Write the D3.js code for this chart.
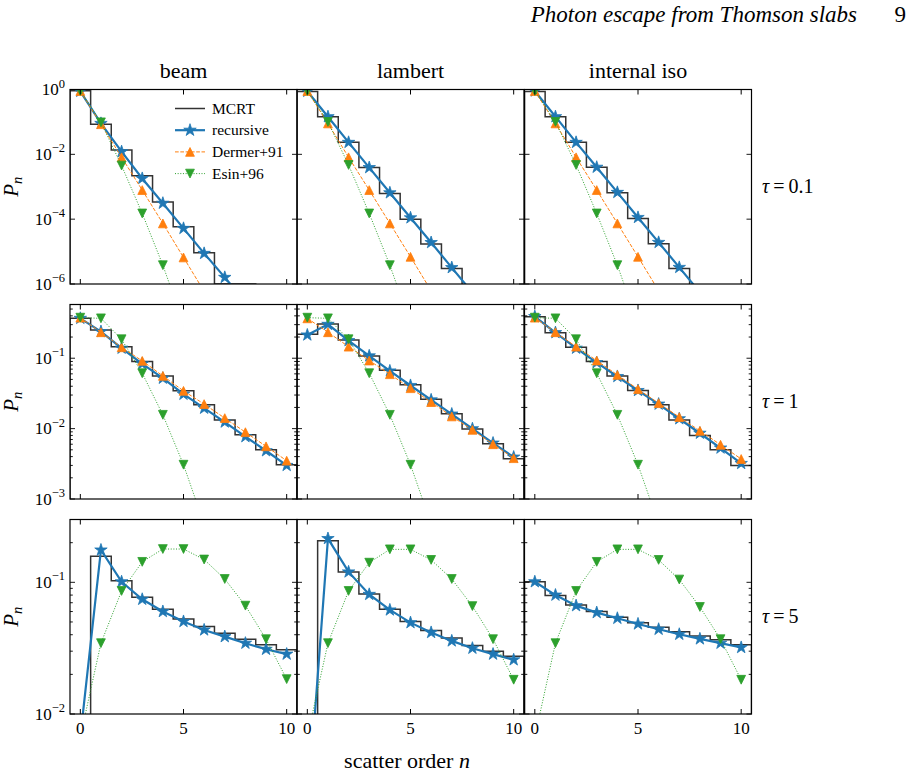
<!DOCTYPE html>
<html><head><meta charset="utf-8">
<script src="https://cdn.jsdelivr.net/npm/d3@7"></script>
<style>
body{margin:0;background:#fff}
svg{display:block}
</style>
</head><body>
<svg id="c" width="922" height="777"></svg>
<script>
// ---------------- data ----------------
const columns = ["beam", "lambert", "internal iso"];
const tauLabels = ["0.1", "1", "5"];
const orders = [0,1,2,3,4,5,6,7,8,9,10];
const xTicks = [0, 5, 10];
const legendLabels = ["MCRT", "recursive", "Dermer+91", "Esin+96"];

// tau = 0.1
const mcrt_t01_beam = [0.91, 0.084, 0.0136, 0.0022, 3.4e-4, 5.8e-5, 9.2e-6, 1e-6, 1e-6, null, null];
const rec_t01_beam  = [0.88, 0.090, 0.0121, 0.0018, 3.1e-4, 5.2e-5, 8.8e-6, 1.6e-6, 2.8e-7, null, null];
const der_t01_beam  = [0.90, 0.085, 0.0081, 7.9e-4, 7.4e-5, 6.6e-6, 5.9e-7, null, null, null, null];
const esin_t01_beam = [0.90, 0.097, 0.0045, 1.5e-4, 3.8e-6, 6e-8, null, null, null, null, null];

const mcrt_t01_lam = [0.86, 0.145, 0.0234, 0.0039, 6.2e-4, 1.0e-4, 1.7e-5, 3.0e-6, null, null, null];
const rec_t01_lam  = [0.88, 0.145, 0.0234, 0.0039, 6.5e-4, 1.1e-4, 1.9e-5, 3.2e-6, 5.4e-7, null, null];
const der_t01_lam  = [0.90, 0.090, 0.0081, 7.9e-4, 7.4e-5, 6.9e-6, 6.2e-7, null, null, null, null];
const esin_t01_lam = [0.90, 0.100, 0.0047, 1.5e-4, 3.8e-6, 6e-8, null, null, null, null, null];

const mcrt_t01_iso = [0.86, 0.145, 0.0234, 0.0040, 6.5e-4, 1.05e-4, 1.75e-5, 3.0e-6, null, null, null];
const rec_t01_iso  = [0.90, 0.145, 0.0234, 0.0040, 6.7e-4, 1.13e-4, 1.92e-5, 3.25e-6, 5.5e-7, null, null];
const der_t01_iso  = [0.90, 0.090, 0.0081, 7.9e-4, 7.4e-5, 6.9e-6, 6.2e-7, null, null, null, null];
const esin_t01_iso = [0.90, 0.100, 0.0047, 1.5e-4, 3.8e-6, 6e-8, null, null, null, null, null];

// tau = 1
const mcrt_t1_beam = [0.369, 0.252, 0.146, 0.0897, 0.056, 0.0344, 0.0218, 0.0133, 0.0082, 0.0050, 0.00307];
const rec_t1_beam  = [0.369, 0.239, 0.139, 0.0832, 0.052, 0.0308, 0.0195, 0.0124, 0.0077, 0.00485, 0.0030];
const der_t1_beam  = [0.377, 0.234, 0.143, 0.0917, 0.0561, 0.0344, 0.0223, 0.0141, 0.0089, 0.0056, 0.0035];
const esin_t1_beam = [0.377, 0.369, 0.186, 0.0612, 0.0157, 0.00307, 4.4e-4, null, null, null, null];

const mcrt_t1_lam = [0.219, 0.307, 0.182, 0.108, 0.0676, 0.0419, 0.0262, 0.0162, 0.0099, 0.0061, 0.00373];
const rec_t1_lam  = [0.214, 0.303, 0.178, 0.108, 0.066, 0.041, 0.0256, 0.0161, 0.00996, 0.00623, 0.00394];
const der_t1_lam  = [0.369, 0.234, 0.146, 0.0927, 0.0593, 0.0375, 0.0238, 0.0149, 0.0096, 0.0060, 0.0038];
const esin_t1_lam = [0.377, 0.369, 0.186, 0.0612, 0.0157, 0.00307, 4.4e-4, null, null, null, null];

const mcrt_t1_iso = [0.39, 0.231, 0.143, 0.0897, 0.056, 0.0348, 0.0218, 0.0133, 0.0080, 0.0050, 0.0030];
const rec_t1_iso  = [0.39, 0.231, 0.139, 0.0868, 0.055, 0.0348, 0.0223, 0.0138, 0.0086, 0.0053, 0.0032];
const der_t1_iso  = [0.377, 0.234, 0.146, 0.0927, 0.058, 0.0363, 0.0230, 0.0146, 0.0093, 0.0059, 0.0037];
const esin_t1_iso = [0.377, 0.369, 0.186, 0.0612, 0.0157, 0.00307, 4.4e-4, null, null, null, null];

// tau = 5 (no Dermer+91 curve)
const mcrt_t5_beam = [0.0067, 0.158, 0.103, 0.077, 0.0624, 0.0527, 0.0461, 0.0411, 0.0370, 0.0335, 0.0307];
const rec_t5_beam  = [0.0067, 0.176, 0.101, 0.0743, 0.060, 0.0504, 0.0435, 0.0387, 0.0345, 0.0310, 0.0285];
const esin_t5_beam = [0.0067, 0.0345, 0.086, 0.143, 0.179, 0.179, 0.149, 0.106, 0.0665, 0.037, 0.0184];

const mcrt_t5_lam = [0.0017, 0.207, 0.120, 0.0816, 0.0624, 0.0504, 0.0430, 0.0377, 0.0331, 0.0299, 0.0274];
const rec_t5_lam  = [0.0017, 0.215, 0.120, 0.0810, 0.0617, 0.0494, 0.0416, 0.0359, 0.0316, 0.0285, 0.0258];
const esin_t5_lam = [0.0067, 0.0345, 0.086, 0.141, 0.178, 0.178, 0.148, 0.106, 0.066, 0.037, 0.0182];

const mcrt_t5_iso = [0.101, 0.0793, 0.0673, 0.0600, 0.0543, 0.0494, 0.0456, 0.0422, 0.0392, 0.0366, 0.0335];
const rec_t5_iso  = [0.101, 0.0800, 0.0665, 0.0589, 0.0533, 0.0483, 0.0440, 0.0403, 0.0372, 0.0345, 0.0320];
const esin_t5_iso = [0.0067, 0.0345, 0.086, 0.143, 0.178, 0.178, 0.148, 0.105, 0.065, 0.037, 0.0182];

const yDomains = [[1e-6, 1], [1e-3, 0.58], [1e-2, 0.3]];
const yMajor = [[1e-6, 1e-4, 1e-2, 1], [1e-3, 1e-2, 1e-1], [1e-2, 1e-1]];
const yMinorOn = [false, true, true];

const panels = [
  [[mcrt_t01_beam, rec_t01_beam, der_t01_beam, esin_t01_beam],
   [mcrt_t01_lam,  rec_t01_lam,  der_t01_lam,  esin_t01_lam],
   [mcrt_t01_iso,  rec_t01_iso,  der_t01_iso,  esin_t01_iso]],
  [[mcrt_t1_beam, rec_t1_beam, der_t1_beam, esin_t1_beam],
   [mcrt_t1_lam,  rec_t1_lam,  der_t1_lam,  esin_t1_lam],
   [mcrt_t1_iso,  rec_t1_iso,  der_t1_iso,  esin_t1_iso]],
  [[mcrt_t5_beam, rec_t5_beam, null, esin_t5_beam],
   [mcrt_t5_lam,  rec_t5_lam,  null, esin_t5_lam],
   [mcrt_t5_iso,  rec_t5_iso,  null, esin_t5_iso]]
];

// ---------------- layout / style ----------------
const FONT = "'Liberation Serif', 'Times New Roman', serif";
const colX = [70, 297, 524.5], colW = 227;
const rowY = [89.5, 304.5, 519.5], rowH = 194.5;
const C_BLUE = "#1f77b4", C_ORANGE = "#ff7f0e", C_GREEN = "#2ca02c", C_HIST = "#333";
const majorLen = 5, minorLen = 2.8;

const svg = d3.select("#c");
const defs = svg.append("defs");
const txt = (parent) => parent.append("text").attr("font-family", FONT).attr("fill", "#000");

function triPath(h, down) {
  const s = down ? -1 : 1;
  return `M0,${-s*h}L${-h},${s*h}L${h},${s*h}Z`;
}
const starPath = d3.symbol(d3.symbolStar, 48)();

function supLabel(sel, exp) {
  sel.append("tspan").text("10");
  sel.append("tspan").attr("dy", -7.5).attr("font-size", 12.5).text(exp < 0 ? "\u2212" + (-exp) : String(exp));
}

for (let r = 0; r < 3; r++) {
  for (let c = 0; c < 3; c++) {
    const x0 = colX[c], y0 = rowY[r];
    const xs = d3.scaleLinear().domain([-0.5, 10.5]).range([x0, x0 + colW]);
    const ys = d3.scaleLog().domain(yDomains[r]).range([y0 + rowH, y0]);
    const below = y0 + rowH + 30;
    const Y = v => (v == null ? below : ys(v));
    const id = `clip${r}${c}`;
    defs.append("clipPath").attr("id", id).append("rect")
      .attr("x", x0).attr("y", y0).attr("width", colW).attr("height", rowH);
    const g = svg.append("g");
    const plot = g.append("g").attr("clip-path", `url(#${id})`);
    const [mcrt, rec, der, esin] = panels[r][c];

    // MCRT histogram (stairs with bin edges at n +/- 0.5)
    const stairPts = [[xs(-0.5), below]];
    orders.forEach((n, i) => {
      stairPts.push([xs(n - 0.5), Y(mcrt[i])]);
      stairPts.push([xs(n + 0.5), Y(mcrt[i])]);
    });
    stairPts.push([xs(10.5), below]);
    plot.append("path").attr("d", d3.line()(stairPts))
      .attr("fill", "none").attr("stroke", C_HIST).attr("stroke-width", 1.5);

    const lineGen = d3.line().defined(d => d[1] != null).x(d => xs(d[0])).y(d => ys(d[1]));
    function series(vals, color, width, dash, marker) {
      const pts = orders.map((n, i) => [n, vals[i]]);
      plot.append("path").attr("d", lineGen(pts)).attr("fill", "none")
        .attr("stroke", color).attr("stroke-width", width)
        .attr("stroke-dasharray", dash);
      plot.selectAll(null).data(pts.filter(d => d[1] != null)).join("path")
        .attr("d", marker)
        .attr("transform", d => `translate(${xs(d[0])},${ys(d[1])})`)
        .attr("fill", color).attr("stroke", color).attr("stroke-width", 0.8);
    }
    series(rec, C_BLUE, 2.2, null, starPath);
    if (der) series(der, C_ORANGE, 1, "3.7,1.6", triPath(4.4, false));
    series(esin, C_GREEN, 1, "1,1.65", triPath(4.4, true));

    // frame
    g.append("rect").attr("x", x0).attr("y", y0).attr("width", colW).attr("height", rowH)
      .attr("fill", "none").attr("stroke", "#000").attr("stroke-width", 1.2);

    // x ticks (bottom & top, inward)
    xTicks.forEach(t => {
      const x = xs(t);
      g.append("line").attr("x1", x).attr("x2", x).attr("y1", y0 + rowH).attr("y2", y0 + rowH - majorLen).attr("stroke", "#000");
      g.append("line").attr("x1", x).attr("x2", x).attr("y1", y0).attr("y2", y0 + majorLen).attr("stroke", "#000");
      if (r === 2) {
        txt(g).attr("x", x).attr("y", y0 + rowH + 19.5)
          .attr("text-anchor", "middle").attr("font-size", 17).text(t);
      }
    });

    // y ticks
    const minor = [];
    if (yMinorOn[r]) {
      const [lo, hi] = yDomains[r];
      for (let e = Math.floor(Math.log10(lo)); e <= Math.ceil(Math.log10(hi)); e++) {
        for (let m = 2; m <= 9; m++) {
          const v = m * Math.pow(10, e);
          if (v > lo && v < hi) minor.push(v);
        }
      }
    }
    const tickLine = (v, len) => {
      const y = ys(v);
      g.append("line").attr("x1", x0).attr("x2", x0 + len).attr("y1", y).attr("y2", y).attr("stroke", "#000").attr("stroke-width", 0.9);
      g.append("line").attr("x1", x0 + colW).attr("x2", x0 + colW - len).attr("y1", y).attr("y2", y).attr("stroke", "#000").attr("stroke-width", 0.9);
    };
    minor.forEach(v => tickLine(v, minorLen));
    yMajor[r].forEach(v => {
      tickLine(v, majorLen);
      if (c === 0) {
        const t = txt(g).attr("x", x0 - 5).attr("y", ys(v) + 5.5)
          .attr("text-anchor", "end").attr("font-size", 17);
        supLabel(t, Math.round(Math.log10(v)));
      }
    });

    // legend in first panel
    if (r === 0 && c === 0) {
      const lx0 = 175, lx1 = 205, ly = [108.5, 130.2, 151.9, 173.6];
      const lg = g.append("g");
      const styles = [
        {color: C_HIST, w: 1.5, dash: null, m: null},
        {color: C_BLUE, w: 2.2, dash: null, m: starPath},
        {color: C_ORANGE, w: 1, dash: "3.7,1.6", m: triPath(4.4, false)},
        {color: C_GREEN, w: 1, dash: "1,1.65", m: triPath(4.4, true)}
      ];
      legendLabels.forEach((lab, i) => {
        const s = styles[i];
        lg.append("line").attr("x1", lx0).attr("x2", lx1).attr("y1", ly[i]).attr("y2", ly[i])
          .attr("stroke", s.color).attr("stroke-width", s.w).attr("stroke-dasharray", s.dash);
        if (s.m) lg.append("path").attr("d", s.m).attr("transform", `translate(${(lx0 + lx1) / 2},${ly[i]})`)
          .attr("fill", s.color).attr("stroke", s.color).attr("stroke-width", 0.8);
        txt(lg).attr("x", 212).attr("y", ly[i] + 5).attr("font-size", 15.5).text(lab);
      });
    }
  }

  // row labels: P_n on left, tau on right
  const yc = rowY[r] + rowH / 2;
  const pl = txt(svg).attr("transform", `translate(18,${yc}) rotate(-90)`)
    .attr("text-anchor", "middle").attr("font-size", 21).attr("font-style", "italic");
  pl.append("tspan").text("P");
  pl.append("tspan").attr("dy", 4).attr("font-size", 14.5).text("n");

  const tl = txt(svg).attr("x", 762).attr("y", yc + 6).attr("font-size", 20);
  tl.append("tspan").attr("font-style", "italic").text("\u03c4");
  tl.append("tspan").text("\u2009=\u2009" + tauLabels[r]);
}

// column titles
columns.forEach((name, c) => {
  txt(svg).attr("x", colX[c] + colW / 2).attr("y", 78)
    .attr("text-anchor", "middle").attr("font-size", 22).text(name);
});

// x label
const xl = txt(svg).attr("x", 407).attr("y", 768).attr("text-anchor", "middle").attr("font-size", 22);
xl.append("tspan").text("scatter order ");
xl.append("tspan").attr("font-style", "italic").text("n");

// running header
txt(svg).attr("x", 857).attr("y", 22).attr("text-anchor", "end")
  .attr("font-size", 23).attr("font-style", "italic").text("Photon escape from Thomson slabs");
txt(svg).attr("x", 906).attr("y", 22).attr("text-anchor", "end")
  .attr("font-size", 23).text("9");
</script>
</body></html>
